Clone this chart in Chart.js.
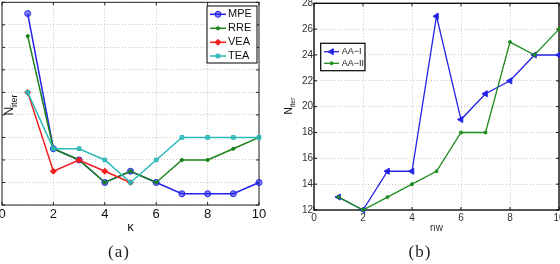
<!DOCTYPE html>
<html>
<head>
<meta charset="utf-8">
<script src="https://cdn.jsdelivr.net/npm/chart.js@4.4.1/dist/chart.umd.min.js"></script>
<style>
  html, body { margin: 0; padding: 0; background: #fff; }
  body { width: 560px; height: 264px; position: relative; overflow: hidden; font-family: "Liberation Sans", Arial, sans-serif; }
  .wrap { position: absolute; }
  .ylab { position: absolute; transform: translate(-50%, -50%) rotate(-90deg); white-space: nowrap; color: #111; line-height: 1; }
  .ylab sub { vertical-align: -0.35em; }
  .cap { position: absolute; transform: translate(-50%, -50%); font-family: "Liberation Serif", "DejaVu Serif", serif; font-size: 17px; letter-spacing: 1px; color: #222; white-space: nowrap; }
</style>
</head>
<body>
<div class="wrap" style="left:-40px; top:-20px;"><canvas id="chartA" width="320" height="284"></canvas></div>
<div class="wrap" style="left:260px; top:-20px;"><canvas id="chartB" width="340" height="284"></canvas></div>
<div class="ylab" style="left:11px; top:105px; font-size:12px;">N<sub style="font-size:9px;">iter</sub></div>
<div class="ylab" style="left:290px; top:106px; font-size:10px;">N<sub style="font-size:7px;">iter</sub></div>
<div class="cap" style="left:119px; top:252px;">(a)</div>
<div class="cap" style="left:420px; top:252px;">(b)</div>
<script>
// (a) iterations against kappa
const kappa = [1, 2, 3, 4, 5, 6, 7, 8, 9, 10];
const mpe = [17, 5, 4, 2, 3, 2, 1, 1, 1, 2];
const rre = [15, 5, 4, 2, 3, 2, 4, 4, 5, 6];
const vea = [10, 3, 4, 3, 2];
const tea = [10, 5, 5, 4, 2, 4, 6, 6, 6, 6];
const kappaTicks = [0, 2, 4, 6, 8, 10];
const gridA = [0, 2, 4, 6, 8, 10, 12, 14, 16, 18]; // y labels are cut off in the original

// (b) iterations against nw
const nw = [1, 2, 3, 4, 5, 6, 7, 8, 9, 10];
const aa1 = [13, 12, 15, 15, 27, 19, 21, 22, 24, 24];
const aa2 = [13, 12, 13, 14, 15, 18, 18, 25, 24, 26];
const nwTicks = [0, 2, 4, 6, 8, 10];
const iterTicks = [12, 14, 16, 18, 20, 22, 24, 26, 28];

const FONT = '"Liberation Sans", Arial, sans-serif';
const GRID = 'rgba(0,0,0,0.22)';

function series(xs, ys) {
    return ys.map((y, i) => ({ x: xs[i], y: y }));
}

function fixTicks(values) {
    return scale => { scale.ticks = values.map(v => ({ value: v })); };
}

// box round the plot area plus short inward ticks, like matlab does
const framePlugin = {
    id: 'frame',
    beforeDatasetsDraw(chart, args, opts) {
        const a = chart.chartArea;
        const ctx = chart.ctx;
        const t = opts.tick;
        ctx.save();
        ctx.strokeStyle = opts.color;
        ctx.lineWidth = opts.width;
        ctx.strokeRect(a.left, a.top, a.right - a.left, a.bottom - a.top);
        ctx.lineWidth = 1;
        ctx.beginPath();
        chart.scales.x.ticks.forEach(tk => {
            const px = chart.scales.x.getPixelForValue(tk.value);
            ctx.moveTo(px, a.bottom); ctx.lineTo(px, a.bottom - t);
            ctx.moveTo(px, a.top); ctx.lineTo(px, a.top + t);
        });
        chart.scales.y.ticks.forEach(tk => {
            const py = chart.scales.y.getPixelForValue(tk.value);
            ctx.moveTo(a.left, py); ctx.lineTo(a.left + t, py);
            ctx.moveTo(a.right, py); ctx.lineTo(a.right - t, py);
        });
        ctx.stroke();
        ctx.restore();
    }
};

// legend drawn in a boxed area inside the plot
const boxLegend = {
    id: 'boxLegend',
    afterDraw(chart, args, o) {
        const ctx = chart.ctx;
        ctx.save();
        ctx.fillStyle = '#fff';
        ctx.fillRect(o.x, o.y, o.w, o.h);
        ctx.strokeStyle = '#000';
        ctx.lineWidth = o.border;
        ctx.strokeRect(o.x, o.y, o.w, o.h);
        ctx.font = o.font;
        ctx.textBaseline = 'middle';
        chart.data.datasets.forEach((ds, i) => {
            const y = o.rowY[i];
            ctx.strokeStyle = ds.borderColor;
            ctx.lineWidth = ds.borderWidth;
            ctx.beginPath();
            ctx.moveTo(o.lineX0, y);
            ctx.lineTo(o.lineX1, y);
            ctx.stroke();
            ctx.fillStyle = ds.pointBackgroundColor;
            ctx.lineWidth = ds.pointBorderWidth;
            Chart.helpers.drawPoint(ctx, {
                pointStyle: ds.pointStyle,
                rotation: ds.pointRotation || 0,
                radius: ds.pointRadius,
                borderWidth: ds.pointBorderWidth
            }, (o.lineX0 + o.lineX1) / 2, y);
            ctx.fillStyle = '#111';
            ctx.fillText(ds.label, o.textX, y);
        });
        ctx.restore();
    }
};

function line(label, data, color, fill, style, radius, order, width, rotation) {
    return {
        label: label,
        data: data,
        borderColor: color,
        backgroundColor: color,
        pointBackgroundColor: fill,
        pointBorderColor: color,
        pointStyle: style,
        pointRadius: radius,
        pointRotation: rotation || 0,
        pointBorderWidth: 1,
        borderWidth: width,
        order: order,
        clip: false
    };
}

new Chart(document.getElementById('chartA'), {
    type: 'line',
    data: {
        datasets: [
            line('MPE', series(kappa, mpe), 'rgb(35,35,235)', 'rgba(35,35,235,0.55)', 'circle', 3, 4, 1.5),
            line('RRE', series(kappa, rre), 'rgb(25,130,25)', 'rgb(25,130,25)', 'circle', 1.6, 3, 1.5),
            line('VEA', series(kappa, vea), 'rgb(240,30,30)', 'rgb(240,30,30)', 'rectRot', 3, 2, 1.5),
            line('TEA', series(kappa, tea), 'rgb(45,185,185)', 'rgba(45,185,185,0.8)', 'rect', 2.6, 1, 1.5)
        ]
    },
    options: {
        responsive: false,
        animation: false,
        events: [],
        layout: { padding: { top: 22.3, right: 21, left: 0, bottom: 0 } },
        plugins: {
            legend: { display: false },
            tooltip: { enabled: false },
            frame: { color: '#222', width: 1, tick: 3 },
            boxLegend: {
                x: 247, y: 26, w: 50, h: 57, border: 1,
                font: '11px ' + FONT,
                rowY: [34.3, 48.3, 62.3, 76],
                lineX0: 250, lineX1: 266, textX: 268
            }
        },
        scales: {
            x: {
                type: 'linear', min: 0, max: 10,
                afterBuildTicks: fixTicks(kappaTicks),
                afterFit: s => { s.height = 59; },
                grid: { color: GRID, drawTicks: false },
                border: { display: false, dash: [1, 2] },
                ticks: { font: { family: FONT, size: 13 }, color: '#111', padding: 2, maxRotation: 0, autoSkip: false },
                title: { display: true, text: 'κ', font: { family: FONT, size: 13 }, color: '#111', padding: { top: 0, bottom: 29 } }
            },
            y: {
                type: 'linear', min: 0, max: 18,
                afterBuildTicks: fixTicks(gridA),
                afterFit: s => { s.width = 42; },
                grid: { color: GRID, drawTicks: false },
                border: { display: false, dash: [1, 2] },
                ticks: { display: false }
            }
        }
    },
    plugins: [framePlugin, boxLegend]
});

new Chart(document.getElementById('chartB'), {
    type: 'line',
    data: {
        datasets: [
            line('AA\u2212I', series(nw, aa1), 'rgb(35,35,230)', 'rgb(35,35,230)', 'triangle', 3.5, 2, 1.3, -90),
            line('AA\u2212II', series(nw, aa2), 'rgb(30,140,30)', 'rgb(30,140,30)', 'circle', 1.5, 1, 1.3)
        ]
    },
    options: {
        responsive: false,
        animation: false,
        events: [],
        layout: { padding: { top: 23.3, right: 41, left: 0, bottom: 0 } },
        plugins: {
            legend: { display: false },
            tooltip: { enabled: false },
            frame: { color: '#111', width: 1.4, tick: 3 },
            boxLegend: {
                x: 60.7, y: 63.3, w: 44.3, h: 27.4, border: 1.2,
                font: '9px ' + FONT,
                rowY: [71.7, 83.3],
                lineX0: 64, lineX1: 79, textX: 81.7
            }
        },
        scales: {
            x: {
                type: 'linear', min: 0, max: 10,
                afterBuildTicks: fixTicks(nwTicks),
                afterFit: s => { s.height = 54; },
                grid: { color: GRID, drawTicks: false },
                border: { display: false, dash: [1, 2] },
                ticks: { font: { family: FONT, size: 10 }, color: '#333', padding: 2, maxRotation: 0, autoSkip: false },
                title: { display: true, text: 'nw', font: { family: FONT, size: 10 }, color: '#333', padding: { top: 0, bottom: 30 } }
            },
            y: {
                type: 'linear', min: 12, max: 28,
                afterBuildTicks: fixTicks(iterTicks),
                afterFit: s => { s.width = 54; },
                grid: { color: GRID, drawTicks: false },
                border: { display: false, dash: [1, 2] },
                ticks: { font: { family: FONT, size: 10 }, color: '#333', padding: 1 }
            }
        }
    },
    plugins: [framePlugin, boxLegend]
});
</script>
</body>
</html>
